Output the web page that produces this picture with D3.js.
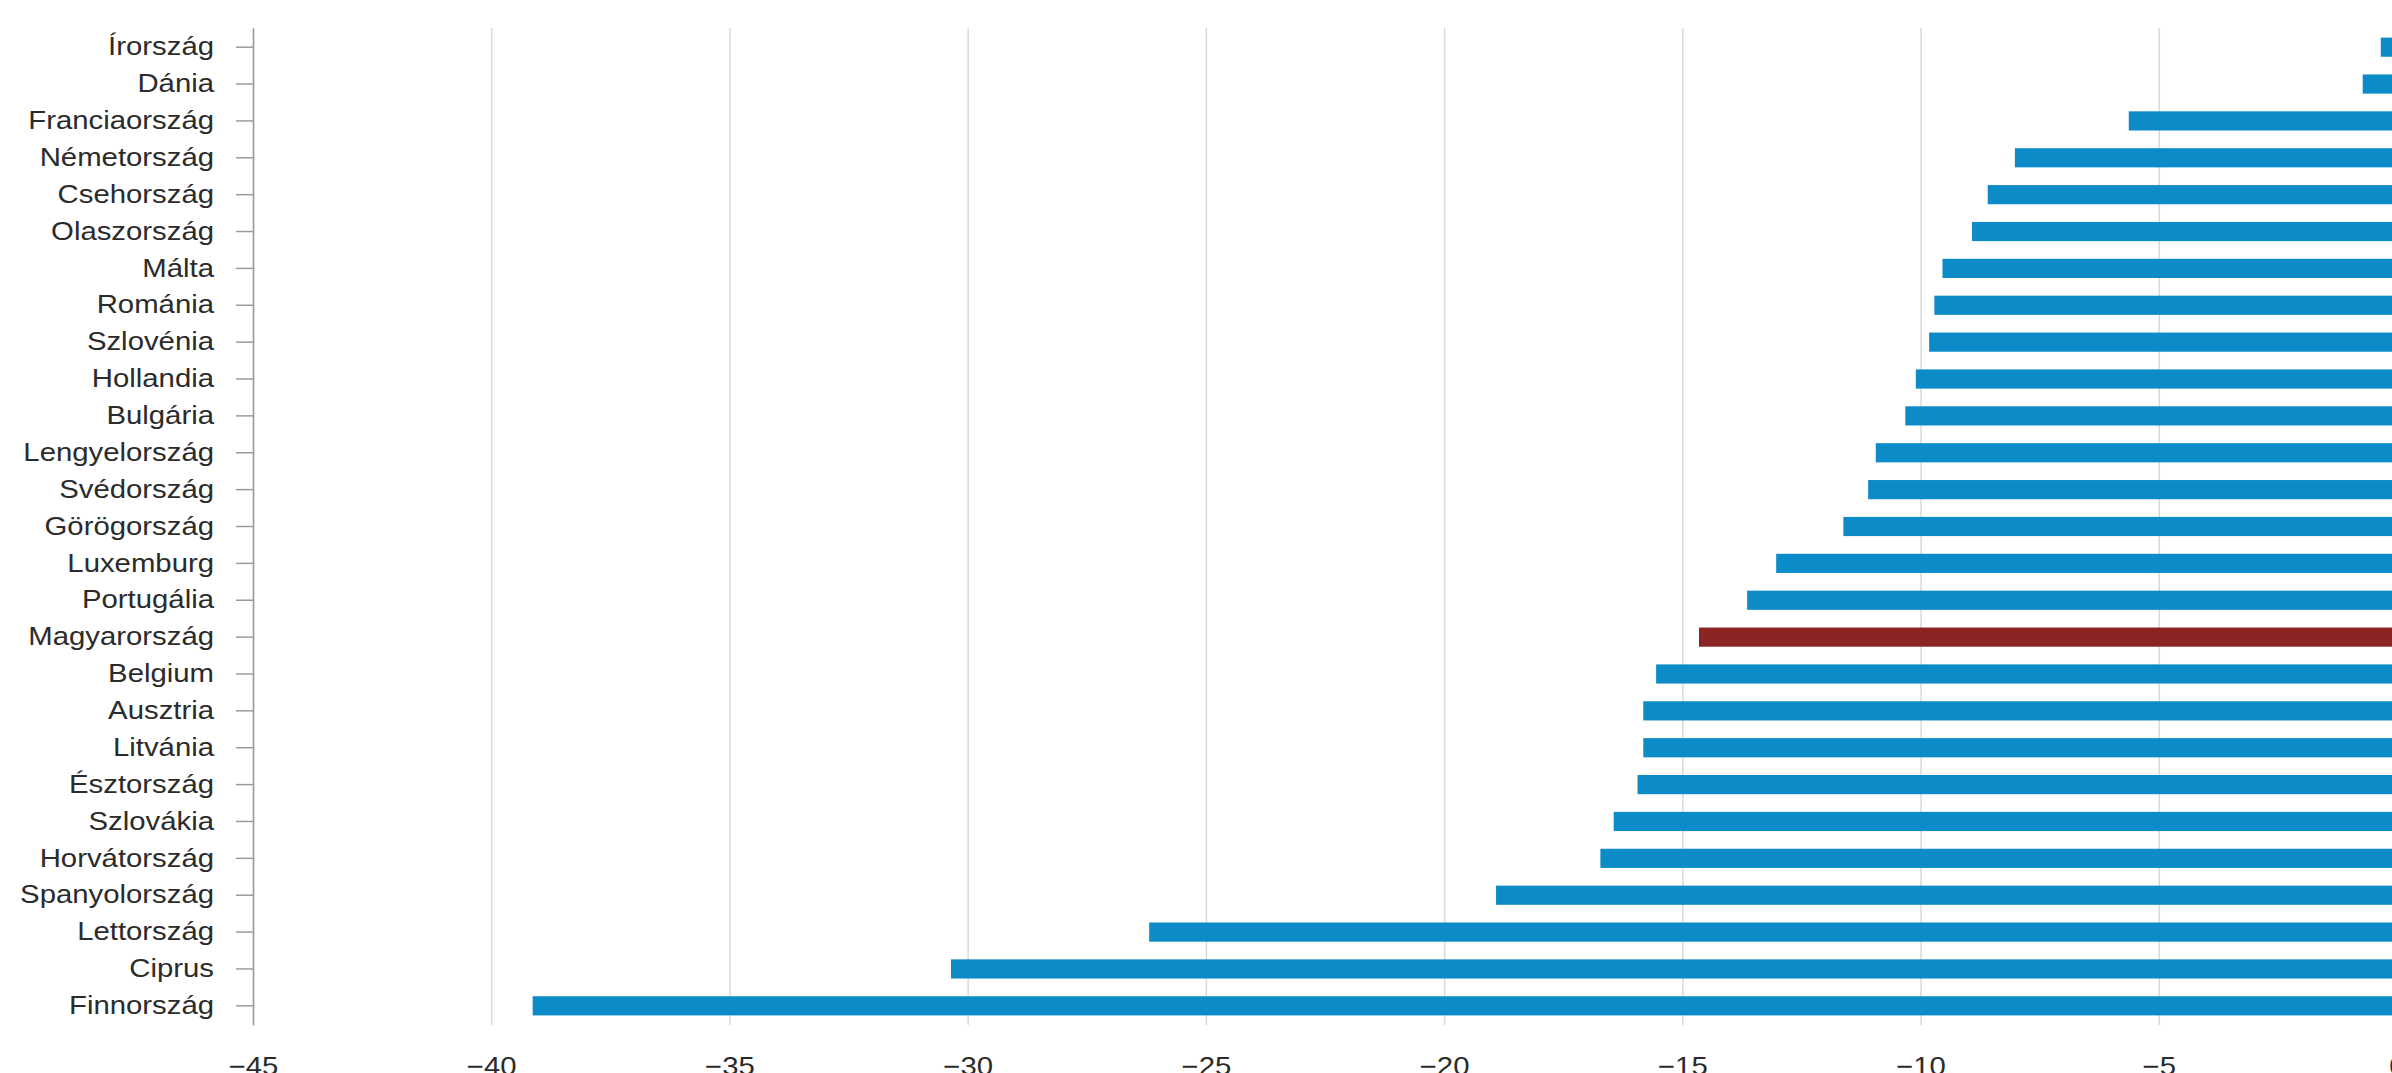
<!DOCTYPE html>
<html>
<head>
<meta charset="utf-8">
<script src="https://cdn.jsdelivr.net/npm/d3@7"></script>
<style>
  html, body { margin: 0; padding: 0; background: #ffffff; overflow: hidden; }
  svg { display: block; }
</style>
</head>
<body>
<svg id="chart" width="2392" height="1073"></svg>
<script>
// ---- data ----
const categories = [
  "Írország", "Dánia", "Franciaország", "Németország", "Csehország",
  "Olaszország", "Málta", "Románia", "Szlovénia", "Hollandia",
  "Bulgária", "Lengyelország", "Svédország", "Görögország", "Luxemburg",
  "Portugália", "Magyarország", "Belgium", "Ausztria", "Litvánia",
  "Észtország", "Szlovákia", "Horvátország", "Spanyolország", "Lettország",
  "Ciprus", "Finnország"
];
const values = [
  -0.34, -0.72, -5.63, -8.02, -8.59,
  -8.92, -9.54, -9.71, -9.82, -10.1,
  -10.32, -10.94, -11.1, -11.62, -13.03,
  -13.64, -14.65, -15.55, -15.82, -15.82,
  -15.94, -16.44, -16.72, -18.91, -26.19,
  -30.35, -39.13
];
const highlightCategory = "Magyarország";
const xTickValues = [-45, -40, -35, -30, -25, -20, -15, -10, -5, 0];

// ---- layout ----
const W = 2392, H = 1073;
const plotLeft = 253, plotRight = 2397, plotTop = 28, plotBottom = 1025;
const stretch = 1.15;          // horizontal text stretch seen in the reference
const fontSize = 25.5;
const blue = "#0b8bc7", red = "#8c2424";
const textColor = "#2b2b2b";

const data = categories.map((c, i) => ({ category: c, value: values[i] }));

const svg = d3.select("#chart");
svg.append("rect").attr("width", W).attr("height", H).attr("fill", "#ffffff");

const x = d3.scaleLinear().domain([-45, 0]).range([plotLeft, plotRight]);
const y = d3.scaleBand().domain(categories).range([plotTop, plotBottom])
  .paddingInner(0.48).paddingOuter(0.26);

// grid + x labels
const gx = svg.append("g")
  .attr("transform", `translate(0,${plotBottom})`)
  .call(d3.axisBottom(x).tickValues(xTickValues)
    .tickSize(-(plotBottom - plotTop)).tickPadding(32).tickFormat(d3.format("d")));
gx.select(".domain").remove();
gx.selectAll(".tick line").attr("stroke", "#d9d9d9").attr("stroke-width", 1.5);
gx.selectAll(".tick text")
  .attr("fill", textColor)
  .attr("font-family", "'Liberation Sans', Arial, sans-serif")
  .attr("font-size", fontSize)
  .attr("transform", `scale(${stretch},1)`);

// bars
svg.append("g").selectAll("rect.bar")
  .data(data)
  .join("rect")
  .attr("class", "bar")
  .attr("x", d => x(d.value))
  .attr("y", d => y(d.category))
  .attr("width", d => x(0) - x(d.value))
  .attr("height", y.bandwidth())
  .attr("fill", d => d.category === highlightCategory ? red : blue);

// y axis
const tickLen = 17, tickPad = 22;
const gy = svg.append("g")
  .attr("transform", `translate(${plotLeft},0)`)
  .call(d3.axisLeft(y).tickSize(tickLen).tickSizeOuter(0).tickPadding(tickPad));
gy.select(".domain").attr("stroke", "#9a9a9a").attr("stroke-width", 1.5);
gy.selectAll(".tick line").attr("stroke", "#9a9a9a").attr("stroke-width", 1.5);
gy.selectAll(".tick text")
  .attr("fill", textColor)
  .attr("font-family", "'Liberation Sans', Arial, sans-serif")
  .attr("font-size", fontSize)
  .attr("x", -(tickLen + tickPad) / stretch)
  .attr("transform", `scale(${stretch},1)`);
</script>
</body>
</html>
